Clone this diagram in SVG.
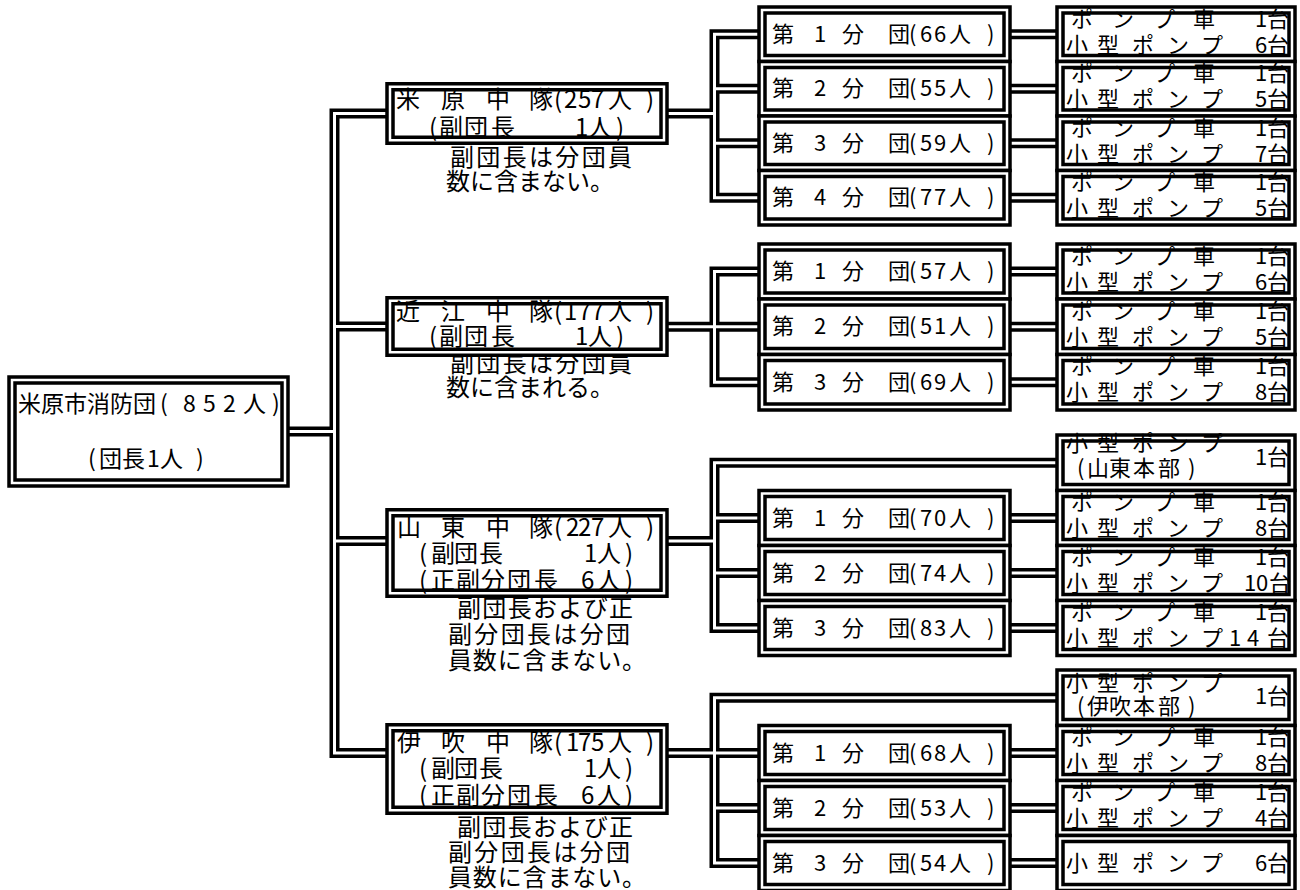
<svg xmlns="http://www.w3.org/2000/svg" xmlns:xlink="http://www.w3.org/1999/xlink" width="1300" height="890" viewBox="0 0 1300 890">
<style>
text{font-family:"Noto Sans CJK JP","Noto Sans CJK SC",sans-serif;fill:#000}
.f21{font-size:22px}.f22{font-size:23px}.f23{font-size:24px}
.w{fill:#fff}
.b{fill:none;stroke:#000;stroke-width:3.5}
.ck{fill:none;stroke:#000;stroke-width:10;stroke-linejoin:miter}
.cw{fill:none;stroke:#fff;stroke-width:3;stroke-linejoin:miter}
</style>
<defs>
<path id="conn" d="M389 113.5 H334.5 V753 H389 M334.5 326.5 H389 M334.5 541 H389 M286 431.5 H334.5
M666 113.5 H714.5 M760 34.25 H714.5 V197.75 H760 M714.5 88.75 H760 M714.5 143.25 H760
M1008 34.25 H1059 M1008 88.75 H1059 M1008 143.25 H1059 M1008 197.75 H1059
M666 326.75 H760 M760 271.5 H714.5 V382.25 H760 M1008 271.5 H1059 M1008 326.75 H1059 M1008 382.25 H1059
M666 541 H714.5 M1059 462.75 H714.5 V628 H760 M714.5 518 H760 M714.5 573 H760 M1008 518 H1059 M1008 573 H1059 M1008 628 H1059
M666 753 H760 M1059 697.75 H714.5 V863 H760 M714.5 808 H760 M1008 753 H1059 M1008 808 H1059 M1008 863 H1059"/>
</defs>
<rect width="1300" height="890" fill="#fff"/>
<g id="connectors">
<use xlink:href="#conn" class="ck"/>
<use xlink:href="#conn" class="cw"/>
</g>

<g id="root">
<rect class="w" x="9" y="377" width="279" height="109"/>
<text class="f22" x="18 41 64 87 110 133 160 183 203 223 243 272" y="412">米原市消防団(852人)</text>
<text class="f22" x="88 99 122 147 160 196" y="467">(団長1人)</text>
<rect class="b" x="9" y="377" width="279" height="109"/>
<rect class="b" x="15" y="383" width="267" height="97"/>
</g>

<g id="maibara">
<text class="f23" x="450" y="165.5" textLength="182" lengthAdjust="spacing">副団長は分団員</text>
<text class="f23" x="446" y="189.5" textLength="168" lengthAdjust="spacing">数に含まない。</text>
<rect class="w" x="387" y="83.75" width="280" height="59.5"/>
<text class="f23" x="396 441 486 529 554 564 578 591 608 646" y="107.5">米原中隊(257人)</text>
<text class="f23" x="429 439 464 491 575 588 616" y="135.5">(副団長1人)</text>
<rect class="b" x="387" y="83.75" width="280" height="59.5"/>
<rect class="b" x="393" y="89.75" width="268" height="47.5"/>
</g>

<g id="omi">
<text class="f23" x="450" y="372" textLength="182" lengthAdjust="spacing">副団長は分団員</text>
<text class="f23" x="446" y="396" textLength="168" lengthAdjust="spacing">数に含まれる。</text>
<rect class="w" x="387" y="297.75" width="280" height="57.5"/>
<text class="f23" x="396 441 486 529 554 564 578 591 608 646" y="319.5">近江中隊(177人)</text>
<text class="f23" x="429 439 464 491 575 588 616" y="345">(副団長1人)</text>
<rect class="b" x="387" y="297.75" width="280" height="57.5"/>
<rect class="b" x="393" y="303.75" width="268" height="45.5"/>
</g>

<g id="santo">
<text class="f23" x="457" y="616.5" textLength="176" lengthAdjust="spacing">副団長および正</text>
<text class="f23" x="448" y="642.5" textLength="182" lengthAdjust="spacing">副分団長は分団</text>
<text class="f23" x="448" y="668.5" textLength="198" lengthAdjust="spacing">員数に含まない。</text>
<rect class="w" x="387" y="509.75" width="280" height="86.5"/>
<text class="f23" x="397 441 486 529 554 566 578 591 608 646" y="535.5">山東中隊(227人)</text>
<text class="f23" x="419 431 454 479 584 597 625" y="561.5">(副団長1人)</text>
<text class="f23" x="419 431 456 481 507 534 581 597 625" y="588.5">(正副分団長6人)</text>
<rect class="b" x="387" y="509.75" width="280" height="86.5"/>
<rect class="b" x="393" y="515.75" width="268" height="74.5"/>
</g>

<g id="ibuki">
<text class="f23" x="457" y="835.5" textLength="176" lengthAdjust="spacing">副団長および正</text>
<text class="f23" x="448" y="860.5" textLength="182" lengthAdjust="spacing">副分団長は分団</text>
<text class="f23" x="448" y="885.5" textLength="198" lengthAdjust="spacing">員数に含まない。</text>
<rect class="w" x="387" y="724.75" width="280" height="88.5"/>
<text class="f23" x="397 441 486 529 554 566 578 591 608 646" y="750.5">伊吹中隊(175人)</text>
<text class="f23" x="419 431 454 479 584 597 625" y="776.5">(副団長1人)</text>
<text class="f23" x="419 431 456 481 507 534 581 597 625" y="803.5">(正副分団長6人)</text>
<rect class="b" x="387" y="724.75" width="280" height="88.5"/>
<rect class="b" x="393" y="730.75" width="268" height="76.5"/>
</g>

<!-- sub units -->
<g id="m1"><rect class="w" x="759" y="7" width="251" height="54.5"/><text class="f21" x="772 814 842 888 909 920 934 949 987" y="41.75">第1分団(66人)</text><rect class="b" x="759" y="7" width="251" height="54.5"/><rect class="b" x="765" y="13" width="239" height="42.5"/></g>
<g id="m2"><rect class="w" x="759" y="61.5" width="251" height="54.5"/><text class="f21" x="772 814 842 888 909 920 934 949 987" y="96.25">第2分団(55人)</text><rect class="b" x="759" y="61.5" width="251" height="54.5"/><rect class="b" x="765" y="67.5" width="239" height="42.5"/></g>
<g id="m3"><rect class="w" x="759" y="116" width="251" height="54.5"/><text class="f21" x="772 814 842 888 909 920 934 949 987" y="150.75">第3分団(59人)</text><rect class="b" x="759" y="116" width="251" height="54.5"/><rect class="b" x="765" y="122" width="239" height="42.5"/></g>
<g id="m4"><rect class="w" x="759" y="170.5" width="251" height="54.5"/><text class="f21" x="772 814 842 888 909 920 934 949 987" y="205.25">第4分団(77人)</text><rect class="b" x="759" y="170.5" width="251" height="54.5"/><rect class="b" x="765" y="176.5" width="239" height="42.5"/></g>

<g id="o1"><rect class="w" x="759" y="244" width="251" height="55"/><text class="f21" x="772 814 842 888 909 920 934 949 987" y="279">第1分団(57人)</text><rect class="b" x="759" y="244" width="251" height="55"/><rect class="b" x="765" y="250" width="239" height="43"/></g>
<g id="o2"><rect class="w" x="759" y="299" width="251" height="55.5"/><text class="f21" x="772 814 842 888 909 920 934 949 987" y="334.25">第2分団(51人)</text><rect class="b" x="759" y="299" width="251" height="55.5"/><rect class="b" x="765" y="305" width="239" height="43.5"/></g>
<g id="o3"><rect class="w" x="759" y="354.5" width="251" height="55.5"/><text class="f21" x="772 814 842 888 909 920 934 949 987" y="389.75">第3分団(69人)</text><rect class="b" x="759" y="354.5" width="251" height="55.5"/><rect class="b" x="765" y="360.5" width="239" height="43.5"/></g>

<g id="s1"><rect class="w" x="759" y="490.5" width="251" height="55"/><text class="f21" x="772 814 842 888 909 920 934 949 987" y="525.5">第1分団(70人)</text><rect class="b" x="759" y="490.5" width="251" height="55"/><rect class="b" x="765" y="496.5" width="239" height="43"/></g>
<g id="s2"><rect class="w" x="759" y="545.5" width="251" height="55"/><text class="f21" x="772 814 842 888 909 920 934 949 987" y="580.5">第2分団(74人)</text><rect class="b" x="759" y="545.5" width="251" height="55"/><rect class="b" x="765" y="551.5" width="239" height="43"/></g>
<g id="s3"><rect class="w" x="759" y="600.5" width="251" height="55"/><text class="f21" x="772 814 842 888 909 920 934 949 987" y="635.5">第3分団(83人)</text><rect class="b" x="759" y="600.5" width="251" height="55"/><rect class="b" x="765" y="606.5" width="239" height="43"/></g>

<g id="i1"><rect class="w" x="759" y="725.5" width="251" height="55"/><text class="f21" x="772 814 842 888 909 920 934 949 987" y="760.5">第1分団(68人)</text><rect class="b" x="759" y="725.5" width="251" height="55"/><rect class="b" x="765" y="731.5" width="239" height="43"/></g>
<g id="i2"><rect class="w" x="759" y="780.5" width="251" height="55"/><text class="f21" x="772 814 842 888 909 920 934 949 987" y="815.5">第2分団(53人)</text><rect class="b" x="759" y="780.5" width="251" height="55"/><rect class="b" x="765" y="786.5" width="239" height="43"/></g>
<g id="i3"><rect class="w" x="759" y="835.5" width="251" height="55"/><text class="f21" x="772 814 842 888 909 920 934 949 987" y="870.5">第3分団(54人)</text><rect class="b" x="759" y="835.5" width="251" height="55"/><rect class="b" x="765" y="841.5" width="239" height="43"/></g>

<!-- equipment -->
<g id="me1"><rect class="w" x="1057" y="7" width="238" height="54.5"/><text class="f21" x="1071 1112 1153 1193 1255 1267" y="26.5">ポンプ車1台</text><text class="f21" x="1066 1097 1132 1167 1201 1255 1267" y="52.5">小型ポンプ6台</text><rect class="b" x="1057" y="7" width="238" height="54.5"/><rect class="b" x="1063" y="13" width="226" height="42.5"/></g>
<g id="me2"><rect class="w" x="1057" y="61.5" width="238" height="54.5"/><text class="f21" x="1071 1112 1153 1193 1255 1267" y="81">ポンプ車1台</text><text class="f21" x="1066 1097 1132 1167 1201 1255 1267" y="107">小型ポンプ5台</text><rect class="b" x="1057" y="61.5" width="238" height="54.5"/><rect class="b" x="1063" y="67.5" width="226" height="42.5"/></g>
<g id="me3"><rect class="w" x="1057" y="116" width="238" height="54.5"/><text class="f21" x="1071 1112 1153 1193 1255 1267" y="135.5">ポンプ車1台</text><text class="f21" x="1066 1097 1132 1167 1201 1255 1267" y="161.5">小型ポンプ7台</text><rect class="b" x="1057" y="116" width="238" height="54.5"/><rect class="b" x="1063" y="122" width="226" height="42.5"/></g>
<g id="me4"><rect class="w" x="1057" y="170.5" width="238" height="54.5"/><text class="f21" x="1071 1112 1153 1193 1255 1267" y="190">ポンプ車1台</text><text class="f21" x="1066 1097 1132 1167 1201 1255 1267" y="216">小型ポンプ5台</text><rect class="b" x="1057" y="170.5" width="238" height="54.5"/><rect class="b" x="1063" y="176.5" width="226" height="42.5"/></g>

<g id="oe1"><rect class="w" x="1057" y="244" width="238" height="55"/><text class="f21" x="1071 1112 1153 1193 1255 1267" y="263.5">ポンプ車1台</text><text class="f21" x="1066 1097 1132 1167 1201 1255 1267" y="289.5">小型ポンプ6台</text><rect class="b" x="1057" y="244" width="238" height="55"/><rect class="b" x="1063" y="250" width="226" height="43"/></g>
<g id="oe2"><rect class="w" x="1057" y="299" width="238" height="55.5"/><text class="f21" x="1071 1112 1153 1193 1255 1267" y="318.5">ポンプ車1台</text><text class="f21" x="1066 1097 1132 1167 1201 1255 1267" y="344.5">小型ポンプ5台</text><rect class="b" x="1057" y="299" width="238" height="55.5"/><rect class="b" x="1063" y="305" width="226" height="43.5"/></g>
<g id="oe3"><rect class="w" x="1057" y="354.5" width="238" height="55.5"/><text class="f21" x="1071 1112 1153 1193 1255 1267" y="374">ポンプ車1台</text><text class="f21" x="1066 1097 1132 1167 1201 1255 1267" y="400">小型ポンプ8台</text><rect class="b" x="1057" y="354.5" width="238" height="55.5"/><rect class="b" x="1063" y="360.5" width="226" height="43.5"/></g>

<g id="se0"><rect class="w" x="1057" y="435" width="238" height="55.5"/><text class="f21" x="1066 1097 1132 1167 1201" y="450.5">小型ポンプ</text><text class="f21" x="1077 1087 1109 1133 1158 1188" y="475.5">(山東本部)</text><text class="f21" x="1255 1267" y="464.5">1台</text><rect class="b" x="1057" y="435" width="238" height="55.5"/><rect class="b" x="1063" y="441" width="226" height="43.5"/></g>
<g id="se1"><rect class="w" x="1057" y="490.5" width="238" height="55"/><text class="f21" x="1071 1112 1153 1193 1255 1267" y="510">ポンプ車1台</text><text class="f21" x="1066 1097 1132 1167 1201 1255 1267" y="536">小型ポンプ8台</text><rect class="b" x="1057" y="490.5" width="238" height="55"/><rect class="b" x="1063" y="496.5" width="226" height="43"/></g>
<g id="se2"><rect class="w" x="1057" y="545.5" width="238" height="55"/><text class="f21" x="1071 1112 1153 1193 1255 1267" y="565">ポンプ車1台</text><text class="f21" x="1066 1097 1132 1167 1201 1244 1256 1269" y="591">小型ポンプ10台</text><rect class="b" x="1057" y="545.5" width="238" height="55"/><rect class="b" x="1063" y="551.5" width="226" height="43"/></g>
<g id="se3"><rect class="w" x="1057" y="600.5" width="238" height="55"/><text class="f21" x="1071 1112 1153 1193 1255 1267" y="620">ポンプ車1台</text><text class="f21" x="1066 1097 1132 1167 1201 1229 1247 1267" y="646">小型ポンプ14台</text><rect class="b" x="1057" y="600.5" width="238" height="55"/><rect class="b" x="1063" y="606.5" width="226" height="43"/></g>

<g id="ie0"><rect class="w" x="1057" y="670" width="238" height="55.5"/><text class="f21" x="1066 1097 1132 1167 1201" y="690.5">小型ポンプ</text><text class="f21" x="1077 1087 1109 1133 1158 1188" y="713.5">(伊吹本部)</text><text class="f21" x="1255 1267" y="703.5">1台</text><rect class="b" x="1057" y="670" width="238" height="55.5"/><rect class="b" x="1063" y="676" width="226" height="43.5"/></g>
<g id="ie1"><rect class="w" x="1057" y="725.5" width="238" height="55"/><text class="f21" x="1071 1112 1153 1193 1255 1267" y="745">ポンプ車1台</text><text class="f21" x="1066 1097 1132 1167 1201 1255 1267" y="771">小型ポンプ8台</text><rect class="b" x="1057" y="725.5" width="238" height="55"/><rect class="b" x="1063" y="731.5" width="226" height="43"/></g>
<g id="ie2"><rect class="w" x="1057" y="780.5" width="238" height="55"/><text class="f21" x="1071 1112 1153 1193 1255 1267" y="800">ポンプ車1台</text><text class="f21" x="1066 1097 1132 1167 1201 1255 1267" y="826">小型ポンプ4台</text><rect class="b" x="1057" y="780.5" width="238" height="55"/><rect class="b" x="1063" y="786.5" width="226" height="43"/></g>
<g id="ie3"><rect class="w" x="1057" y="835.5" width="238" height="55"/><text class="f21" x="1066 1097 1132 1167 1201 1255 1267" y="870.5">小型ポンプ6台</text><rect class="b" x="1057" y="835.5" width="238" height="55"/><rect class="b" x="1063" y="841.5" width="226" height="43"/></g>
</svg>
